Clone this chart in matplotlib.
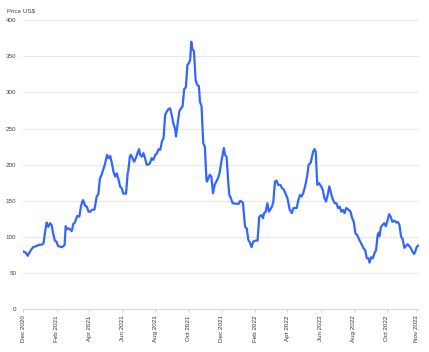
import matplotlib
matplotlib.use("Agg")
import matplotlib.pyplot as plt
import pandas as pd

# price readings (date, US$)
dates = [
    "2020-12-01", "2020-12-06", "2020-12-09", "2020-12-12", "2020-12-16", "2020-12-19",
    "2020-12-26", "2020-12-29", "2021-01-04", "2021-01-07", "2021-01-08", "2021-01-10",
    "2021-01-13", "2021-01-14", "2021-01-16", "2021-01-19", "2021-01-22", "2021-01-25",
    "2021-01-28", "2021-01-31", "2021-02-03", "2021-02-10", "2021-02-13", "2021-02-15",
    "2021-02-17", "2021-02-19", "2021-02-22", "2021-02-25", "2021-02-28", "2021-03-03",
    "2021-03-06", "2021-03-10", "2021-03-14", "2021-03-17", "2021-03-20", "2021-03-21",
    "2021-03-25", "2021-03-28", "2021-03-31", "2021-04-03", "2021-04-06", "2021-04-11",
    "2021-04-15", "2021-04-18", "2021-04-21", "2021-04-24", "2021-04-27", "2021-04-30",
    "2021-05-04", "2021-05-07", "2021-05-10", "2021-05-13", "2021-05-16", "2021-05-19",
    "2021-05-22", "2021-05-25", "2021-05-28", "2021-05-31", "2021-06-03", "2021-06-08",
    "2021-06-11", "2021-06-12", "2021-06-15", "2021-06-17", "2021-06-20", "2021-06-23",
    "2021-06-27", "2021-06-30", "2021-07-02", "2021-07-04", "2021-07-07", "2021-07-10",
    "2021-07-13", "2021-07-16", "2021-07-19", "2021-07-22", "2021-07-25", "2021-07-28",
    "2021-08-01", "2021-08-04", "2021-08-07", "2021-08-10", "2021-08-13", "2021-08-16",
    "2021-08-19", "2021-08-22", "2021-08-25", "2021-08-28", "2021-08-31", "2021-09-03",
    "2021-09-06", "2021-09-08", "2021-09-11", "2021-09-14", "2021-09-17", "2021-09-20",
    "2021-09-23", "2021-09-26", "2021-09-29", "2021-10-02", "2021-10-04", "2021-10-06",
    "2021-10-08", "2021-10-11", "2021-10-14", "2021-10-17", "2021-10-20", "2021-10-22",
    "2021-10-25", "2021-10-28", "2021-10-31", "2021-11-03", "2021-11-04", "2021-11-09",
    "2021-11-12", "2021-11-15", "2021-11-18", "2021-11-21", "2021-11-24", "2021-11-27",
    "2021-12-01", "2021-12-05", "2021-12-07", "2021-12-10", "2021-12-13", "2021-12-15",
    "2021-12-18", "2021-12-21", "2022-01-01", "2022-01-04", "2022-01-09", "2022-01-11",
    "2022-01-13", "2022-01-16", "2022-01-19", "2022-01-22", "2022-01-25", "2022-01-28",
    "2022-02-01", "2022-02-05", "2022-02-08", "2022-02-12", "2022-02-15", "2022-02-17",
    "2022-02-20", "2022-02-23", "2022-02-26", "2022-03-02", "2022-03-04", "2022-03-06",
    "2022-03-09", "2022-03-12", "2022-03-15", "2022-03-19", "2022-03-22", "2022-03-25",
    "2022-03-28", "2022-04-01", "2022-04-05", "2022-04-09", "2022-04-12", "2022-04-18",
    "2022-04-21", "2022-04-24", "2022-04-27", "2022-04-30", "2022-05-04", "2022-05-07",
    "2022-05-10", "2022-05-14", "2022-05-18", "2022-05-21", "2022-05-23", "2022-05-25",
    "2022-05-26", "2022-05-29", "2022-06-02", "2022-06-05", "2022-06-08", "2022-06-11",
    "2022-06-14", "2022-06-17", "2022-06-21", "2022-06-24", "2022-06-27", "2022-06-30",
    "2022-07-03", "2022-07-06", "2022-07-09", "2022-07-12", "2022-07-15", "2022-07-18",
    "2022-07-22", "2022-07-26", "2022-07-29", "2022-08-01", "2022-08-04", "2022-08-07",
    "2022-08-10", "2022-08-13", "2022-08-16", "2022-08-19", "2022-08-22", "2022-08-25",
    "2022-08-28", "2022-08-30", "2022-09-02", "2022-09-05", "2022-09-08", "2022-09-11",
    "2022-09-14", "2022-09-16", "2022-09-17", "2022-09-20", "2022-09-23", "2022-09-26",
    "2022-09-29", "2022-10-02", "2022-10-05", "2022-10-08", "2022-10-11", "2022-10-15",
    "2022-10-18", "2022-10-21", "2022-10-24", "2022-10-27", "2022-10-30", "2022-11-02",
    "2022-11-05", "2022-11-08", "2022-11-11", "2022-11-14", "2022-11-17", "2022-11-20",
    "2022-11-22", "2022-11-25", "2022-11-28",
]
prices = [
    80, 78, 74, 78, 83, 86,
    87.6, 89, 89.5, 91, 95, 107,
    120, 117, 114, 119, 117, 105,
    95, 93.6, 87.6, 85.8, 87.6, 89,
    115, 110.7, 112, 110.7, 108, 118,
    120, 129, 128, 142, 150, 151,
    143, 142, 135, 135, 137.4, 138,
    156, 159, 181, 186, 193, 200,
    213.6, 209, 212, 202, 190, 183.5,
    188, 180, 170, 167.5, 160, 160,
    188, 190.5, 211, 213.6, 209, 204,
    211, 218, 221.5, 213.6, 211, 216,
    209, 200, 200, 202, 209, 206.6,
    213.6, 216, 221.5, 220.5, 232, 236.7,
    269, 273.5, 276.8, 278, 269, 257,
    250.5, 239, 257, 273.5, 278, 280.5,
    304.5, 307, 338, 341, 345, 370,
    360, 357, 317, 310, 309, 287,
    280.5, 230, 225, 179, 176.6, 186,
    183.5, 160.6, 172, 176.6, 181, 188,
    206.6, 223, 213.6, 211, 176.6, 158,
    153.6, 146.7, 145.7, 150, 147.5, 130.5,
    114, 112, 96, 92, 86, 93.6,
    95, 95, 128, 130.5, 126, 133,
    135, 146.7, 135, 140, 143, 149,
    176.6, 178, 172, 172, 167.5, 166,
    160.6, 153.6, 138, 133, 140, 140,
    151, 158, 156, 160.6, 172, 183,
    200, 203, 218, 221.5, 218, 185,
    172, 174.4, 170, 165, 153.6, 149,
    158, 170, 158, 151, 146.7, 146.7,
    140, 142, 135, 137.4, 133, 140,
    138, 135, 126, 121, 105, 103,
    98, 93.6, 89, 84.4, 82, 70.6,
    70.6, 64.5, 72, 70.6, 77.5, 82,
    103, 106, 101, 113.5, 116.7, 119,
    115, 122.6, 131.5, 128, 121, 122.6,
    120, 121, 116.7, 100.5, 97, 85,
    87.6, 90, 87.6, 84.4, 79.7, 76.5,
    79.7, 86.6, 88,
]

tick_dates = ["2020-12-01", "2021-02-01", "2021-04-01", "2021-06-01", "2021-08-01",
              "2021-10-01", "2021-12-01", "2022-02-01", "2022-04-01", "2022-06-01",
              "2022-08-01", "2022-10-01", "2022-11-24"]
tick_labels = ["Dec 2020", "Feb 2021", "Apr 2021", "Jun 2021", "Aug 2021", "Oct 2021",
               "Dec 2021", "Feb 2022", "Apr 2022", "Jun 2022", "Aug 2022", "Oct 2022",
               "Nov 2022"]
y_ticks = [0, 50, 100, 150, 200, 250, 300, 350, 400]

plt.rcParams["font.family"] = ["Liberation Sans", "DejaVu Sans"]

fig = plt.figure(figsize=(4.29, 3.52), dpi=100)
ax = fig.add_axes([0.0543, 0.1213, 0.9224, 0.8217])

x = pd.to_datetime(dates)
ax.plot(x, prices, color="#3366ff", linewidth=1.6, solid_joinstyle="round")

ax.set_xlim(pd.Timestamp("2020-12-01"), pd.Timestamp("2022-11-29"))
ax.set_ylim(0, 400)
ax.set_yticks(y_ticks)
ax.set_yticklabels([str(v) for v in y_ticks])
ax.set_xticks(pd.to_datetime(tick_dates))
ax.set_xticklabels(tick_labels, rotation=90)

ax.grid(axis="y", color="#e8e8e8", linewidth=0.8)
ax.set_axisbelow(True)
for s in ["top", "right", "left"]:
    ax.spines[s].set_visible(False)
ax.spines["bottom"].set_color("#dcdcdc")
ax.spines["bottom"].set_linewidth(0.8)

ax.tick_params(axis="y", length=0, pad=5, labelsize=4.5, labelcolor="#444444")
ax.tick_params(axis="x", length=2.5, width=0.6, color="#cccccc", pad=2,
               labelsize=4.5, labelcolor="#333333")

fig.text(0.016, 0.975, "Price US$", fontsize=4.5, color="#444444", va="top", ha="left")

fig.savefig("out.png", dpi=100)
